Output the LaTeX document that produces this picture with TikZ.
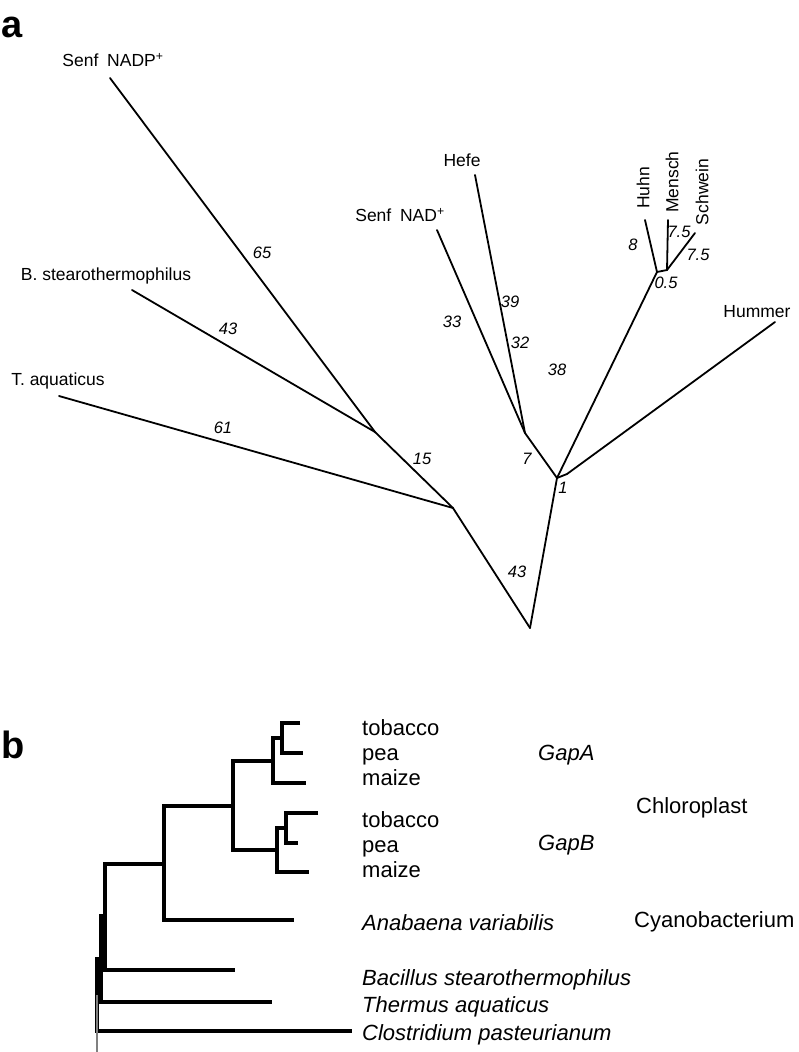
\documentclass[tikz,border=0pt]{standalone}
\usepackage{fontspec}
\setmainfont{Liberation Sans}
\usetikzlibrary{positioning}

\begin{document}
\begin{tikzpicture}[x=1pt,y=-1pt,
  panel/.style={font=\fontsize{38}{40}\selectfont\bfseries,inner sep=0pt,anchor=base west},
  taxon/.style={font=\fontsize{17.5}{20}\selectfont,inner sep=0pt},
  brlen/.style={font=\fontsize{16.5}{18}\selectfont\itshape,inner sep=0pt},
  edgeA/.style={line width=1.8pt,line cap=round},
  edgeB/.style={line width=3.2pt},
  leafB/.style={font=\fontsize{22}{26}\selectfont,inner sep=0pt,anchor=base west}]
\useasboundingbox (0,0) rectangle (799,1052);

\node[panel] (pa) at (1,37) {a};
\node[panel] (pb) at (1,758) {b};

% tree a
\coordinate (ra)  at (530,628);
\coordinate (x2)  at (453,508);
\coordinate (x1)  at (375,432);
\coordinate (n1)  at (557,478);
\coordinate (n1h) at (567,474);
\coordinate (n2)  at (525,433);
\coordinate (n3)  at (657,272);
\coordinate (n3b) at (667,270);
\coordinate (tnadp)    at (110,78);
\coordinate (tbst)     at (132,290);
\coordinate (ttaq)     at (59,396);
\coordinate (tnad)     at (437,230);
\coordinate (thefe)    at (475,175);
\coordinate (thuhn)    at (645,220);
\coordinate (tmensch)  at (668,220);
\coordinate (tschwein) at (695,233);
\coordinate (thummer)  at (775,322);

\draw[edgeA] (tnadp) -- (x1);
\draw[edgeA] (tbst) -- (x1);
\draw[edgeA] (x1) -- (x2);
\draw[edgeA] (ttaq) -- (x2);
\draw[edgeA] (x2) -- (ra);
\draw[edgeA] (ra) -- (n1);
\draw[edgeA] (n1) -- (n2);
\draw[edgeA] (tnad) -- (n2);
\draw[edgeA] (thefe) -- (n2);
\draw[edgeA] (n1) -- (n3);
\draw[edgeA] (n1) -- (n1h) -- (thummer);
\draw[edgeA] (thuhn) -- (n3);
\draw[edgeA] (n3) -- (n3b);
\draw[edgeA] (tmensch) -- (n3b);
\draw[edgeA] (tschwein) -- (n3b);

\node[taxon] (nadp)    at (113,60)  {Senf\enspace NADP\textsuperscript{+}};
\node[taxon] (bst)     at (106,276) {B. stearothermophilus};
\node[taxon] (taq)     at (58,381)  {T. aquaticus};
\node[taxon] (nad)     at (400,215) {Senf\enspace NAD\textsuperscript{+}};
\node[taxon] (hefe)    at (462,160) {Hefe};
\node[taxon,rotate=90] (huhn)    at (643,188) {Huhn};
\node[taxon,rotate=90] (mensch)  at (672,182) {Mensch};
\node[taxon,rotate=90] (schwein) at (702,192) {Schwein};
\node[taxon] (hummer)  at (757,312) {Hummer};

\node[brlen] (l65)  at (262,253) {65};
\node[brlen] (l43a) at (228,329) {43};
\node[brlen] (l61)  at (223,428) {61};
\node[brlen] (l15)  at (422,459) {15};
\node[brlen] (l43b) at (517,572) {43};
\node[brlen] (l33)  at (452,322) {33};
\node[brlen] (l39)  at (510,302) {39};
\node[brlen] (l7)   at (527,459) {7};
\node[brlen] (l1)   at (563,488) {1};
\node[brlen] (l32)  at (520,343) {32};
\node[brlen] (l38)  at (557,370) {38};
\node[brlen] (l8)   at (633,245) {8};
\node[brlen] (l75a) at (679,232) {7.5};
\node[brlen] (l75b) at (698,255) {7.5};
\node[brlen] (l05)  at (666,283) {0.5};

% tree b
\coordinate (a1) at (282,738);
\coordinate (a2) at (273,761);
\coordinate (b1) at (286,828);
\coordinate (b2) at (277,850);
\coordinate (c)  at (233,806);
\coordinate (d)  at (164,864);
\coordinate (e)  at (105,916);
\coordinate (f)  at (101,959);
\coordinate (g)  at (97,995);
\coordinate (gs) at (97,1052);
\coordinate (tobA)   at (300,723);
\coordinate (peaA)   at (303,753);
\coordinate (maizeA) at (306,783);
\coordinate (tobB)   at (318,813);
\coordinate (peaB)   at (298,843);
\coordinate (maizeB) at (309,872);
\coordinate (anab)   at (294,920);
\coordinate (bac)    at (235,970);
\coordinate (therm)  at (272,1002);
\coordinate (clos)   at (352,1031);

\draw[edgeB] (tobA) -| (a1) |- (peaA);
\draw[edgeB] (a1) -| (a2) |- (maizeA);
\draw[edgeB] (tobB) -| (b1) |- (peaB);
\draw[edgeB] (b1) -| (b2) |- (maizeB);
\draw[edgeB] (a2) -| (c) |- (b2);
\draw[edgeB] (c) -| (d) |- (anab);
\draw[edgeB] (d) -| (e) |- (bac);
\draw[edgeB] (e) -| (f) |- (therm);
\draw[edgeB] (f) -| (g) |- (clos);
\draw[gray,line width=1.5pt] (g) -- (gs);

\node[leafB] (ttob1) at (362,735) {tobacco};
\node[leafB] (tpea1) at (362,760) {pea};
\node[leafB] (tmai1) at (362,785) {maize};
\node[leafB] (ttob2) at (362,827) {tobacco};
\node[leafB] (tpea2) at (362,852) {pea};
\node[leafB] (tmai2) at (362,877) {maize};
\node[leafB] (tanab) at (362,930) {\itshape Anabaena variabilis};
\node[leafB] (tbac)  at (362,985) {\itshape Bacillus stearothermophilus};
\node[leafB] (tthe)  at (362,1012) {\itshape Thermus aquaticus};
\node[leafB] (tclo)  at (362,1040) {\itshape Clostridium pasteurianum};
\node[leafB] (gapa)  at (538,760) {\itshape GapA};
\node[leafB] (gapb)  at (538,850) {\itshape GapB};
\node[leafB] (chl)   at (636,813) {Chloroplast};
\node[leafB] (cya)   at (634,927) {Cyanobacterium};
\end{tikzpicture}
\end{document}
